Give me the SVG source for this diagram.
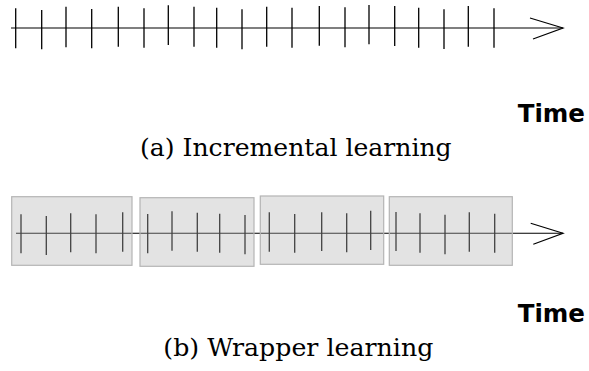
<svg xmlns="http://www.w3.org/2000/svg" width="589" height="371" viewBox="0 0 589 371">
<style>
.axis{stroke:#000;stroke-width:1.1;fill:none}
.tick{stroke:#000;stroke-width:1.3}
.head{stroke:#000;stroke-width:1.2;fill:none}
.win{fill:#b4b4b4;fill-opacity:0.37;stroke:#b4b4b4;stroke-width:1.2}
.time{font-family:"DejaVu Sans",sans-serif;font-weight:bold;font-size:24.5px;fill:#000}
.cap{font-family:"DejaVu Serif",serif;font-size:25px;fill:#000}
</style>
<g id="panel-a">
<line class="axis" x1="11" y1="28" x2="563" y2="28"/>
<polyline class="head" points="530,18 563,28 533,39"/>
<g id="ticks-a" class="tick">
<line x1="15.7" y1="8.3" x2="15.7" y2="48.3"/>
<line x1="41.7" y1="10" x2="41.7" y2="49.3"/>
<line x1="66" y1="6.7" x2="66" y2="47.3"/>
<line x1="91.7" y1="9" x2="91.7" y2="48.3"/>
<line x1="118.3" y1="6.7" x2="118.3" y2="46.7"/>
<line x1="144" y1="8.3" x2="144" y2="47.7"/>
<line x1="168.3" y1="5.3" x2="168.3" y2="45"/>
<line x1="194" y1="6.7" x2="194" y2="46.7"/>
<line x1="216.7" y1="7.7" x2="216.7" y2="47.7"/>
<line x1="242" y1="9.3" x2="242" y2="49.3"/>
<line x1="266.7" y1="6.7" x2="266.7" y2="46.7"/>
<line x1="292" y1="7.7" x2="292" y2="47.7"/>
<line x1="319.3" y1="6" x2="319.3" y2="45.7"/>
<line x1="345" y1="7.3" x2="345" y2="47.3"/>
<line x1="369" y1="5" x2="369" y2="44.3"/>
<line x1="394.7" y1="6" x2="394.7" y2="46"/>
<line x1="418.7" y1="7.7" x2="418.7" y2="47.7"/>
<line x1="444" y1="9.3" x2="444" y2="49"/>
<line x1="468.3" y1="6" x2="468.3" y2="46.7"/>
<line x1="494" y1="8.3" x2="494" y2="47.7"/>
</g>
<text class="time" x="585" y="121.7" text-anchor="end">Time</text>
<text class="cap" x="140" y="155.7" textLength="311.7" lengthAdjust="spacingAndGlyphs">(a) Incremental learning</text>
</g>
<g id="panel-b">
<line class="axis" x1="16" y1="233.3" x2="563" y2="233.3"/>
<polyline class="head" points="530.7,223.3 563,233.3 533.3,244.3"/>
<g id="ticks-b" class="tick">
<line x1="21" y1="214.3" x2="21" y2="253.3"/>
<line x1="46.3" y1="216" x2="46.3" y2="255"/>
<line x1="70.7" y1="213.3" x2="70.7" y2="252.3"/>
<line x1="96" y1="214.3" x2="96" y2="253.3"/>
<line x1="122.7" y1="212.3" x2="122.7" y2="251.7"/>
<line x1="147.7" y1="214" x2="147.7" y2="253.3"/>
<line x1="172" y1="211.3" x2="172" y2="250.7"/>
<line x1="197.3" y1="212.7" x2="197.3" y2="251.7"/>
<line x1="219.7" y1="213.7" x2="219.7" y2="252.7"/>
<line x1="245" y1="215" x2="245" y2="254.3"/>
<line x1="269.3" y1="212.3" x2="269.3" y2="251.7"/>
<line x1="294.7" y1="214" x2="294.7" y2="252.7"/>
<line x1="321.7" y1="212.3" x2="321.7" y2="251"/>
<line x1="346.7" y1="213.3" x2="346.7" y2="252.3"/>
<line x1="370.7" y1="210.7" x2="370.7" y2="250"/>
<line x1="396" y1="212" x2="396" y2="251"/>
<line x1="420" y1="213.3" x2="420" y2="252.7"/>
<line x1="445" y1="214.7" x2="445" y2="254.3"/>
<line x1="469.3" y1="212.3" x2="469.3" y2="251.7"/>
<line x1="494.7" y1="213.7" x2="494.7" y2="252.7"/>
</g>
<g id="windows">
<rect id="win1" class="win" x="11.7" y="196.7" width="120.3" height="68.6"/>
<rect id="win2" class="win" x="140" y="197.7" width="114" height="68.6"/>
<rect id="win3" class="win" x="260.3" y="196" width="123.4" height="68.3"/>
<rect id="win4" class="win" x="389.3" y="196.7" width="123" height="68.6"/>
</g>
<text class="time" x="585" y="321.7" text-anchor="end">Time</text>
<text class="cap" x="163.3" y="355.7" textLength="270" lengthAdjust="spacingAndGlyphs">(b) Wrapper learning</text>
</g>
</svg>
